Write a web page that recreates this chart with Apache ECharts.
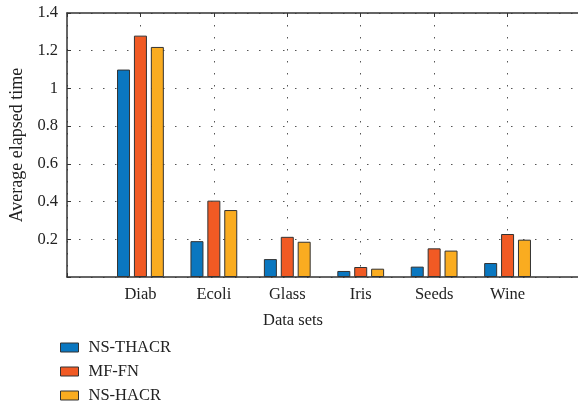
<!DOCTYPE html>
<html>
<head>
<meta charset="utf-8">
<script src="https://cdn.jsdelivr.net/npm/echarts@6/dist/echarts.min.js"></script>
<style>html,body{margin:0;padding:0;background:#fff;overflow:hidden}#c{width:578px;height:407px}</style>
</head>
<body>
<div id="c"></div>
<script>
var categories = ['', 'Diab', 'Ecoli', 'Glass', 'Iris', 'Seeds', 'Wine', ''];
var seriesNames = ['NS-THACR', 'MF-FN', 'NS-HACR'];
var nsThacr = [null, 1.10, 0.19, 0.095, 0.032, 0.055, 0.074, null];
var mfFn    = [null, 1.28, 0.405, 0.213, 0.053, 0.152, 0.228, null];
var nsHacr  = [null, 1.22, 0.355, 0.187, 0.044, 0.140, 0.198, null];
var yTicks = [0, 0.2, 0.4, 0.6, 0.8, 1, 1.2, 1.4];
var colors = ['#0a77c0', '#f15a24', '#faac20'];

var font = 'Liberation Serif';
var fs = 16.5;
var chart = echarts.init(document.getElementById('c'), null, {renderer: 'canvas'});
var dotted = {type: [1.5, 10.5], color: '#555', width: 1};
function mk(name, data, i) {
  return {
    name: name, type: 'bar', data: data, barWidth: 13, barGap: '30%',
    itemStyle: {color: colors[i], borderColor: '#333', borderWidth: 1},
    emphasis: {disabled: true}
  };
}
chart.setOption({
  animation: false,
  textStyle: {fontFamily: font},
  grid: {left: 67, top: 13, width: 514, height: 264, containLabel: false, outerBoundsMode: 'none'},
  legend: {
    orient: 'vertical', left: 60, top: 339, padding: 0, itemWidth: 18, itemHeight: 9, itemGap: 7,
    height: 80,
    textStyle: {fontFamily: font, fontSize: fs, color: '#222', padding: [0, 0, 0, 5]},
    data: seriesNames.map(function(n){return {name: n, icon: 'rect', itemStyle: {borderColor: '#333', borderWidth: 1}};})
  },
  xAxis: [{
    type: 'category', data: categories, boundaryGap: false,
    name: 'Data sets', nameLocation: 'middle', nameGap: 35,
    nameTextStyle: {fontFamily: font, fontSize: fs, color: '#222', padding: [0, 62, 0, 0]},
    axisLine: {lineStyle: {color: '#333', width: 1.5}},
    axisTick: {show: true, inside: true, length: 4, lineStyle: {color: '#333'}},
    axisLabel: {fontFamily: font, fontSize: fs, color: '#222', margin: 9, interval: 0},
    splitLine: {show: true, lineStyle: dotted}
  }, {
    type: 'category', data: categories, boundaryGap: false, position: 'top',
    axisLine: {lineStyle: {color: '#333', width: 1.5}},
    axisTick: {show: true, inside: true, length: 4, lineStyle: {color: '#333'}},
    axisLabel: {show: false}, splitLine: {show: false}
  }],
  yAxis: {
    type: 'value', min: 0, max: 1.4, interval: 0.2,
    name: 'Average elapsed time', nameLocation: 'middle', nameGap: 40,
    nameTextStyle: {fontFamily: font, fontSize: 18, color: '#222'},
    axisLine: {show: true, lineStyle: {color: '#333', width: 1.5}},
    axisTick: {show: true, inside: true, length: 4, lineStyle: {color: '#333'}},
    axisLabel: {fontFamily: font, fontSize: fs, color: '#222', margin: 9,
      formatter: function(v){ return v === 0 ? '' : String(+v.toFixed(1)); }},
    splitLine: {show: true, lineStyle: dotted}
  },
  series: [mk(seriesNames[0], nsThacr, 0), mk(seriesNames[1], mfFn, 1), mk(seriesNames[2], nsHacr, 2)]
});
</script>
</body>
</html>
